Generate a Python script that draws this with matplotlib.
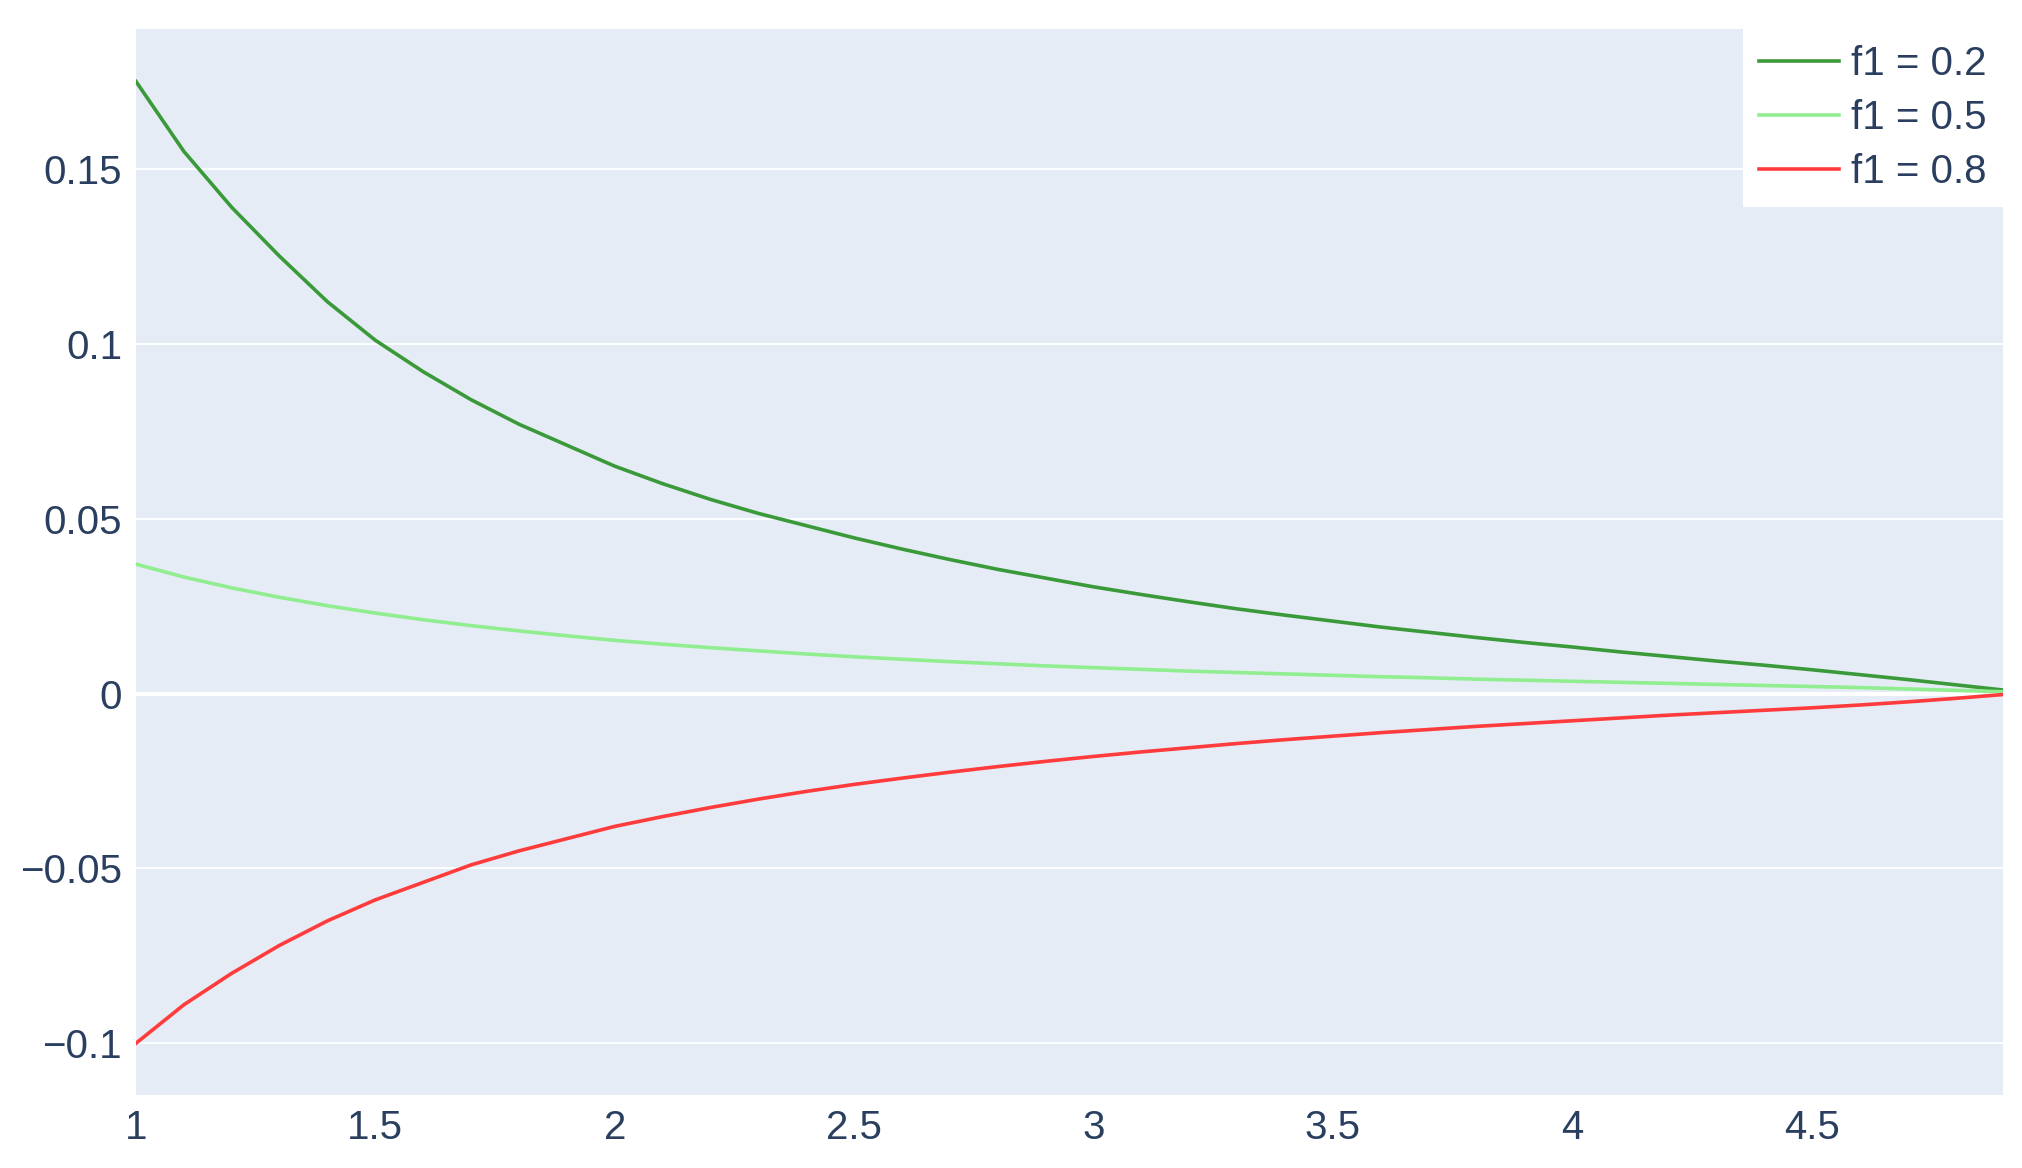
import matplotlib.pyplot as plt

plt.rcParams["font.family"] = ["Liberation Sans", "DejaVu Sans"]

x = [round(1.0 + 0.1 * i, 1) for i in range(40)]

f1_02 = [0.175, 0.155, 0.139, 0.125, 0.112, 0.101, 0.092, 0.084, 0.077, 0.071,
         0.065, 0.060, 0.0555, 0.0515, 0.048, 0.0445, 0.0413, 0.0383, 0.0355, 0.033,
         0.0305, 0.0283, 0.0262, 0.0242, 0.0224, 0.0207, 0.0190, 0.0175, 0.0160, 0.0146,
         0.0133, 0.0119, 0.0106, 0.0093, 0.0081, 0.0068, 0.0054, 0.0040, 0.0025, 0.0010]
f1_05 = [0.037, 0.0333, 0.0302, 0.0275, 0.0251, 0.0230, 0.0211, 0.0194, 0.0179, 0.0165,
         0.0152, 0.0141, 0.0131, 0.0122, 0.0113, 0.0105, 0.0098, 0.0091, 0.0085, 0.0079,
         0.0074, 0.0069, 0.0064, 0.0060, 0.0056, 0.0052, 0.0048, 0.0045, 0.0041, 0.0038,
         0.0035, 0.0032, 0.0029, 0.0026, 0.0023, 0.0020, 0.0017, 0.0013, 0.0009, 0.0005]
f1_08 = [-0.100, -0.089, -0.080, -0.072, -0.065, -0.059, -0.054, -0.049, -0.045, -0.0415,
         -0.038, -0.0352, -0.0326, -0.0302, -0.0280, -0.0260, -0.0242, -0.0225, -0.0209, -0.0194,
         -0.0180, -0.0167, -0.0155, -0.0143, -0.0132, -0.0122, -0.0112, -0.0103, -0.0094, -0.0086,
         -0.0078, -0.0070, -0.0062, -0.0055, -0.0048, -0.0041, -0.0033, -0.0024, -0.0014, -0.0003]

series = [("f1 = 0.2", f1_02, "#3a9a3a"),
          ("f1 = 0.5", f1_05, "#90ee90"),
          ("f1 = 0.8", f1_08, "#ff3b3b")]

xticks = [1, 1.5, 2, 2.5, 3, 3.5, 4, 4.5]
xtick_labels = ["1", "1.5", "2", "2.5", "3", "3.5", "4", "4.5"]
yticks = [-0.1, -0.05, 0, 0.05, 0.1, 0.15]
ytick_labels = ["\u22120.1", "\u22120.05", "0", "0.05", "0.1", "0.15"]

text_color = "#2a3f5f"

fig = plt.figure(figsize=(20.22, 11.68), dpi=100)
ax = fig.add_axes([136 / 2022, 1 - 1095 / 1168, (2003 - 136) / 2022, (1095 - 29) / 1168])
ax.set_facecolor("#e5ecf6")

for label, ys, color in series:
    ax.plot(x, ys, color=color, lw=2.6, label=label, zorder=3)

ax.set_xlim(1, 4.9)
ax.set_ylim(-0.1148, 0.19)
ax.set_xticks(xticks, xtick_labels)
ax.set_yticks(yticks, ytick_labels)
ax.tick_params(length=0, labelsize=29, colors=text_color, pad=10)
ax.grid(axis="y", color="white", lw=1.3, zorder=1)
ax.axhline(0, color="white", lw=3, zorder=2)
for spine in ax.spines.values():
    spine.set_visible(False)

leg = ax.legend(loc="upper right", bbox_to_anchor=(1.0, 1.0), fontsize=29,
                frameon=True, fancybox=False, framealpha=1, edgecolor="white",
                borderaxespad=0, handlelength=2.0, handletextpad=0.3,
                labelspacing=0.4, labelcolor=text_color)
leg.get_frame().set_linewidth(0)

fig.savefig("out.png", dpi=100)
